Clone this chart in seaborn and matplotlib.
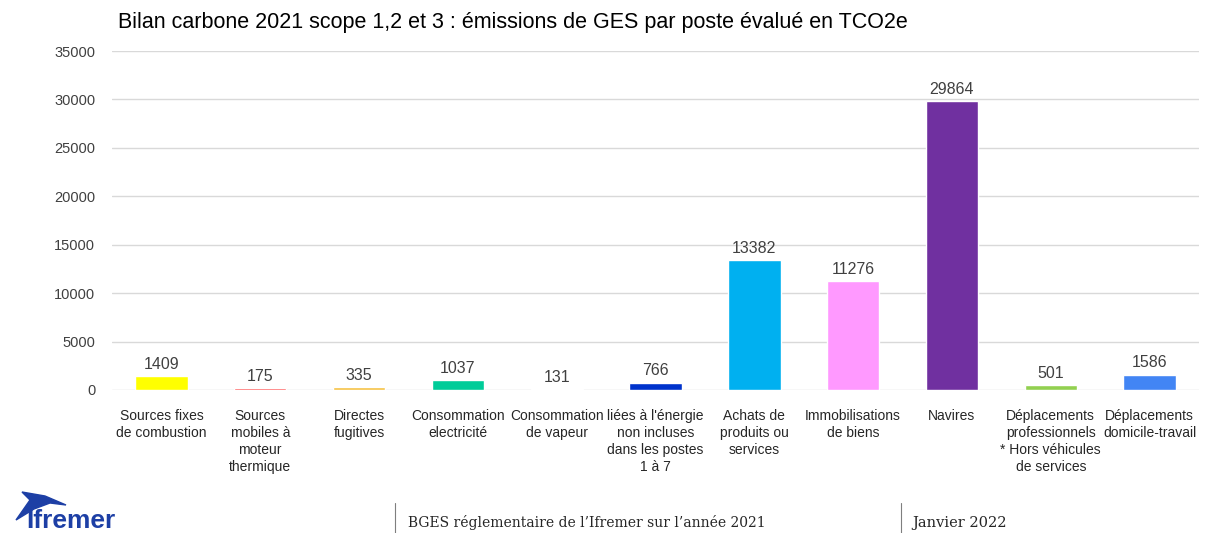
"""
Bilan carbone 2021 (Ifremer) - emissions de GES par poste, bar chart.
"""
import matplotlib
matplotlib.use("Agg")
import matplotlib.pyplot as plt
import seaborn as sns
import pandas as pd

TITLE = "Bilan carbone 2021 scope 1,2 et 3 : émissions de GES par poste évalué en TCO2e"

postes = [
    "Sources fixes\nde combustion",
    "Sources\nmobiles à\nmoteur\nthermique",
    "Directes\nfugitives",
    "Consommation\nelectricité",
    "Consommation\nde vapeur",
    "liées à l'énergie\nnon incluses\ndans les postes\n1 à 7",
    "Achats de\nproduits ou\nservices",
    "Immobilisations\nde biens",
    "Navires",
    "Déplacements\nprofessionnels\n* Hors véhicules\nde services",
    "Déplacements\ndomicile-travail",
]
emissions = [1409, 175, 335, 1037, 131, 766, 13382, 11276, 29864, 501, 1586]
couleurs = ["#FFFF00", "#FF4B4B", "#F6C143", "#00CC99", "#FFFFFF", "#0033CC",
            "#00B0F0", "#FF99FF", "#7030A0", "#92D050", "#4285F4"]
yticks = [0, 5000, 10000, 15000, 20000, 25000, 30000, 35000]

df = pd.DataFrame({"poste": postes, "tco2e": emissions})

sns.set_style("white")
plt.rcParams["font.family"] = ["Liberation Sans", "DejaVu Sans"]

fig = plt.figure(figsize=(12.06, 5.33), dpi=100)
ax = fig.add_axes([0.0929, 0.2683, 0.9013, 0.636])

sns.barplot(data=df, x="poste", y="tco2e", hue="poste", palette=couleurs,
            legend=False, width=0.53, saturation=1, ax=ax)

ax.set_ylim(0, 35000)
ax.set_xlim(-0.5, len(postes) - 0.5)
ax.set_yticks(yticks)
ax.set_yticklabels([str(t) for t in yticks], fontsize=10.5, color="#404040")
ax.yaxis.grid(True, color="#d9d9d9", linewidth=1)
ax.set_axisbelow(True)
for s in ax.spines.values():
    s.set_visible(False)
ax.tick_params(axis="both", length=0)
ax.tick_params(axis="y", pad=12)
ax.set_xlabel("")
ax.set_ylabel("")
ax.set_xticks(range(len(postes)))
ax.set_xticklabels(postes, fontsize=10, color="#262626", linespacing=1.25)
ax.tick_params(axis="x", pad=14)

for i, v in enumerate(emissions):
    ax.annotate(str(v), (i, v), xytext=(0, 3), textcoords="offset points",
                ha="center", va="bottom", fontsize=11.5, color="#404040")

fig.text(118 / 1206, 1 - 22 / 533, TITLE, fontsize=15.5, color="#000000",
         ha="left", va="center")

# bas de page : logo simplifie + mentions
logo = plt.Polygon([(16 / 1206, 1 - 520 / 533), (30 / 1206, 1 - 500 / 533),
                    (22 / 1206, 1 - 492 / 533), (45 / 1206, 1 - 496 / 533),
                    (66 / 1206, 1 - 505 / 533), (50 / 1206, 1 - 503 / 533),
                    (34 / 1206, 1 - 509 / 533)],
                   closed=True, color="#1d3fa5", transform=fig.transFigure)
fig.add_artist(logo)
fig.text(26 / 1206, 1 - 521 / 533, "Ifremer", fontsize=19, fontweight="bold",
         color="#1d3fa5", ha="left", va="center")
for xl in (395, 901):
    fig.add_artist(plt.Line2D([xl / 1206, xl / 1206], [0, 1 - 503 / 533],
                              color="#7f7f7f", linewidth=0.8))
fig.text(408 / 1206, 1 - 523 / 533, "BGES réglementaire de l\u2019Ifremer sur l\u2019année 2021",
         fontsize=10, family="DejaVu Serif", ha="left", va="center", color="#262626")
fig.text(912 / 1206, 1 - 523 / 533, "Janvier 2022", fontsize=10.5,
         family="DejaVu Serif", ha="left", va="center", color="#262626")

fig.savefig("out.png", dpi=100)
